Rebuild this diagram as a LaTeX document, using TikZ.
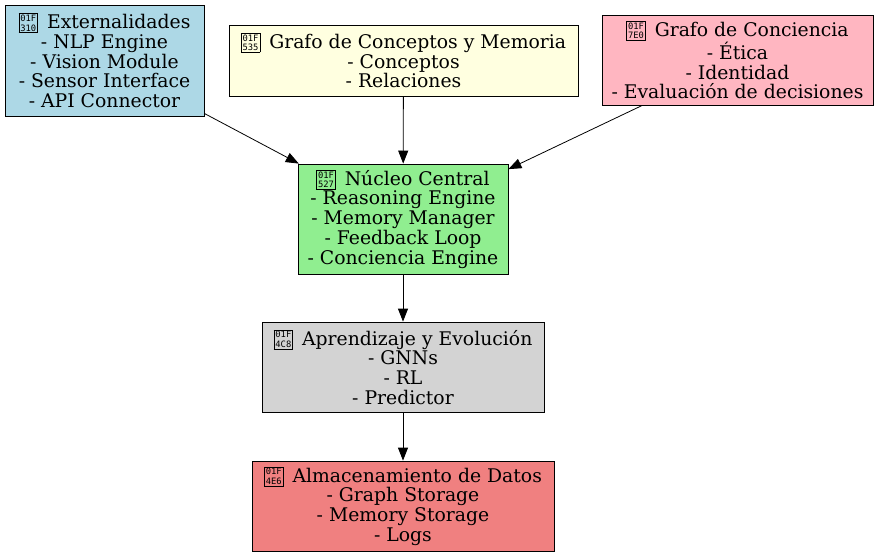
\documentclass[tikz,border=0pt]{standalone}
\usepackage{fontspec}
\setmainfont{DejaVu Serif}
\newfontfamily\tofufont{DejaVu Sans Mono}
\usetikzlibrary{arrows.meta}
\definecolor{cExt}{RGB}{173,216,230}
\definecolor{cCon}{RGB}{255,255,224}
\definecolor{cEti}{RGB}{255,182,193}
\definecolor{cNuc}{RGB}{144,238,144}
\definecolor{cApr}{RGB}{211,211,211}
\definecolor{cAlm}{RGB}{240,128,128}
\newcommand\tofu[1]{\raisebox{-2.5pt}{\setlength\fboxsep{1.1pt}\setlength\fboxrule{0.7pt}\fbox{\tofufont\fontsize{8.8pt}{7.4pt}\selectfont\shortstack{01F\\#1}}}\hspace{3pt}}
\tikzset{
  box/.style={draw, line width=0.8pt, rectangle, align=center, inner sep=0pt,
    font=\fontsize{18.8pt}{19.7pt}\selectfont},
  arr/.style={-{Triangle[length=13pt,width=10pt]}, line width=0.8pt}
}
\begin{document}
\begin{tikzpicture}[x=1pt,y=1pt]
\useasboundingbox (0,0) rectangle (879,-557);
\node[box, fill=cExt, minimum width=199pt, minimum height=111pt] (ext) at (104.5,-60.5)
  {\tofu{310} Externalidades\\- NLP Engine\\- Vision Module\\- Sensor Interface\\- API Connector};
\node[box, fill=cCon, minimum width=349pt, minimum height=71pt] (con) at (403.5,-60.5)
  {\tofu{535} Grafo de Conceptos y Memoria\\- Conceptos\\- Relaciones};
\node[box, fill=cEti, minimum width=271pt, minimum height=90pt] (eti) at (737.5,-60)
  {\tofu{7E0} Grafo de Conciencia\\- Ética\\- Identidad\\- Evaluación de decisiones};
\node[box, fill=cNuc, minimum width=210pt, minimum height=110pt] (nuc) at (403,-219)
  {\tofu{527} Núcleo Central\\- Reasoning Engine\\- Memory Manager\\- Feedback Loop\\- Conciencia Engine};
\node[box, fill=cApr, minimum width=282pt, minimum height=90pt] (apr) at (403,-367)
  {\tofu{4C8} Aprendizaje y Evolución\\- GNNs\\- RL\\- Predictor};
\node[box, fill=cAlm, minimum width=302pt, minimum height=90pt] (alm) at (403,-506)
  {\tofu{4E6} Almacenamiento de Datos\\- Graph Storage\\- Memory Storage\\- Logs};
\draw[arr] (ext) -- (nuc);
\draw[arr] (con) -- (nuc);
\draw[arr] (eti) -- (nuc);
\draw[arr] (nuc) -- (apr);
\draw[arr] (apr) -- (alm);
\end{tikzpicture}
\end{document}
